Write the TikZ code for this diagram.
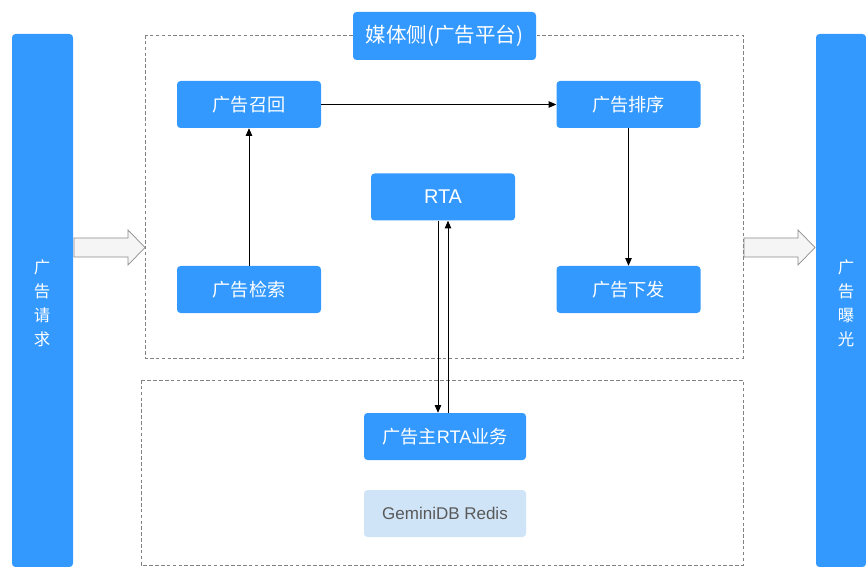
\documentclass[tikz,border=0pt]{standalone}
\usepackage{fontspec}
\setmainfont{Noto Sans CJK SC}
\newfontfamily\lat{Liberation Sans}
\usetikzlibrary{arrows.meta}
\definecolor{adblue}{RGB}{51,153,255}
\definecolor{dbblue}{RGB}{208,228,247}
\definecolor{dashgray}{RGB}{130,130,130}
\tikzset{
    stepbox/.style={fill=adblue, rounded corners=3pt, text=white, minimum width=144*0.03cm, minimum height=47*0.03cm, inner sep=0pt, font=\fontsize{15.5}{17}\selectfont},
    zone/.style={draw=dashgray, dash pattern=on 3pt off 2pt, line width=0.6pt},
    bigarrow/.style={fill=black!4, draw=black!45, line width=0.6pt},
    flow/.style={-{Triangle[length=6.5pt,width=5.5pt]}, line width=0.7pt}
}
\begin{document}
\begin{tikzpicture}[x=0.03cm,y=-0.03cm]
    \useasboundingbox (0,0) rectangle (866,567);
    % side bars
    \fill[adblue, rounded corners=3pt] (12,567) -- (12,34) -- (73,34) -- (73,567) -- cycle;
    \fill[adblue, rounded corners=3pt] (816,567) -- (816,34) -- (866,34) -- (866,567) -- cycle;
    \node[text=white, align=center, font=\fontsize{14}{20.5}\selectfont] (req) at (42,303) {广\\告\\请\\求};
    \node[text=white, align=center, font=\fontsize{14}{20.5}\selectfont] (show) at (846,303) {广\\告\\曝\\光};
    % zones
    \draw[zone] (145,35) rectangle (743,358);
    \draw[zone] (141,380) rectangle (743,565);
    \node[stepbox, minimum width=183*0.03cm, minimum height=48*0.03cm, font=\fontsize{17.5}{19}\selectfont] (media) at (444.5,36) {媒体侧(广告平台)};
    % boxes
    \node[stepbox] (recall) at (249,104.5) {广告召回};
    \node[stepbox] (rank) at (628.5,104.5) {广告排序};
    \node[stepbox, font=\lat\fontsize{17}{19}\selectfont] (rta) at (443,197) {RTA};
    \node[stepbox] (search) at (249,289.5) {广告检索};
    \node[stepbox] (deliver) at (628.5,289.5) {广告下发};
    \node[stepbox, minimum width=162*0.03cm] (adv) at (445,436.5) {广告主{\lat RTA}业务};
    \node[stepbox, minimum width=162*0.03cm, fill=dbblue, text=black!65, font=\lat\fontsize{14.5}{16}\selectfont] (redis) at (445,513.5) {GeminiDB Redis};
    % flows
    \draw[flow] (search) -- (recall);
    \draw[flow] (recall) -- (rank);
    \draw[flow] (rank) -- (deliver);
    \draw[flow] ([xshift=-5*0.03cm]rta.south) -- ([xshift=-7*0.03cm]adv.north);
    \draw[flow] ([xshift=3*0.03cm]adv.north) -- ([xshift=5*0.03cm]rta.south);
    % block arrows
    \draw[bigarrow] (74,238) -- (128,238) -- (128,230) -- (145,247.5) -- (128,265) -- (128,257) -- (74,257) -- cycle;
    \draw[bigarrow] (744,238) -- (798,238) -- (798,230) -- (815,247.5) -- (798,265) -- (798,257) -- (744,257) -- cycle;
\end{tikzpicture}
\end{document}
